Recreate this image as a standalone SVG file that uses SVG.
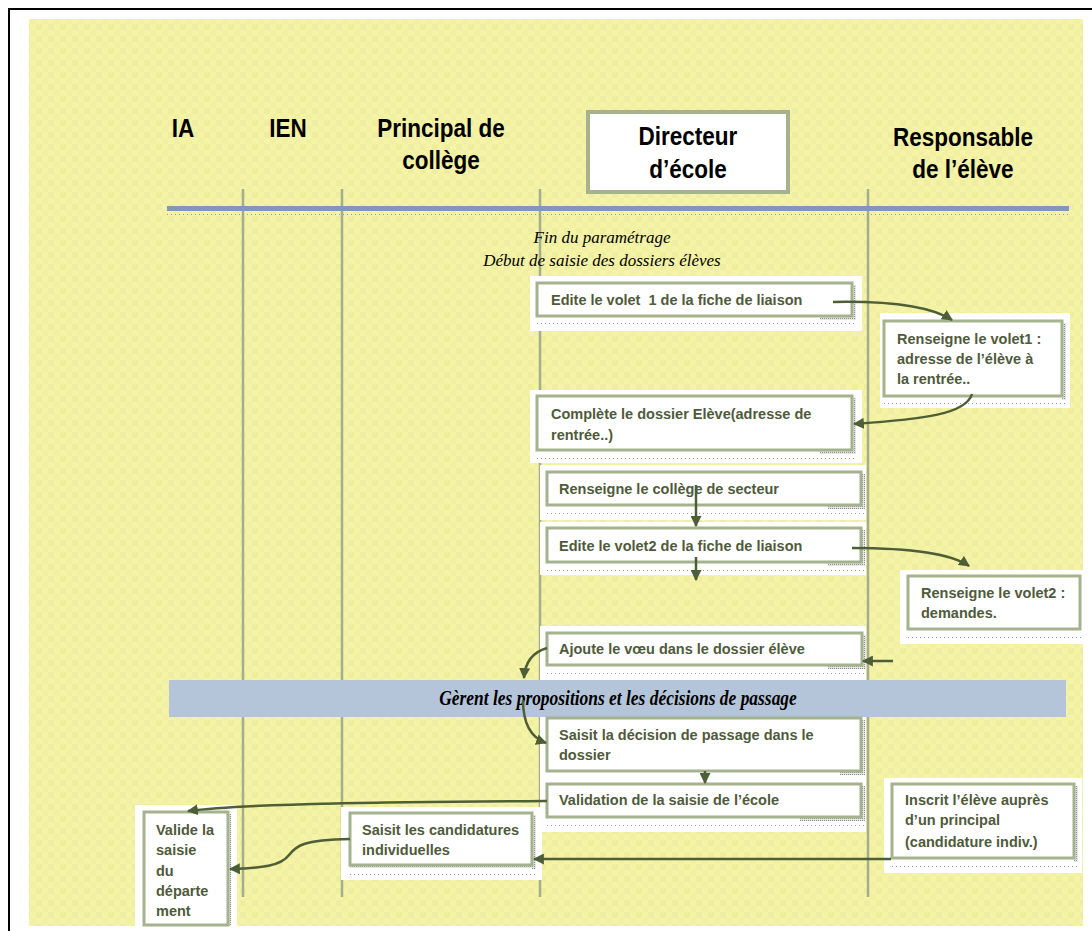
<svg xmlns="http://www.w3.org/2000/svg" width="1092" height="931" viewBox="0 0 1092 931">
<style>
.hd{font-family:"Liberation Sans",Arial,sans-serif;font-weight:bold;font-size:25px;fill:#000;text-anchor:middle;transform-box:fill-box;transform-origin:center;transform:scaleX(0.9)}
.t{font-family:"Liberation Sans",Arial,sans-serif;font-weight:bold;font-size:14.5px;fill:#4F5A3B}
.it{font-family:"Liberation Serif","Times New Roman",serif;font-style:italic;font-size:17px;fill:#000;text-anchor:middle}
.band{font-family:"Liberation Serif","Times New Roman",serif;font-style:italic;font-weight:bold;font-size:21px;fill:#000;text-anchor:middle;transform-box:fill-box;transform-origin:center;transform:scaleX(0.83)}
.bg{fill:#fff}
.bx{fill:#fff;stroke:#A4B28D;stroke-width:3}
.sh{fill:url(#stip)}
.dot{stroke:#9a9a9a;stroke-width:1;stroke-dasharray:1 3;fill:none}
.lane{stroke:#A2AE8C;stroke-width:2.5}
.cn{fill:none;stroke:#4E5E37;stroke-width:2.5;marker-end:url(#ah)}
</style>
<defs>
<pattern id="chk" width="12" height="12" patternUnits="userSpaceOnUse">
<rect width="12" height="12" fill="#F5F3A6"/>
<rect width="6" height="6" fill="#EFEDA1"/>
<rect x="6" y="6" width="6" height="6" fill="#F2F0A3"/>
</pattern>
<pattern id="stip" width="2" height="2" patternUnits="userSpaceOnUse">
<rect width="2" height="2" fill="#e6e6e6"/>
<rect width="1" height="1" fill="#8c8c8c"/>
</pattern>
<marker id="ah" viewBox="0 0 10 10" refX="9" refY="5" markerWidth="11" markerHeight="11" markerUnits="userSpaceOnUse" orient="auto">
<path d="M0,0 L10,5 L0,10 z" fill="#4E5E37"/>
</marker>
</defs>

<g id="background">
<rect x="0" y="0" width="1092" height="931" fill="#fff"/>
<rect x="9" y="9" width="1100" height="1000" fill="none" stroke="#000" stroke-width="2"/>
<rect x="29" y="19" width="1054" height="907" fill="url(#chk)"/>
</g>

<g id="lanes">
<line class="lane" x1="243" y1="189" x2="243" y2="897"/>
<line class="lane" x1="342" y1="189" x2="342" y2="897"/>
<line class="lane" x1="540" y1="189" x2="540" y2="897"/>
<line class="lane" x1="868" y1="189" x2="868" y2="897"/>
<rect x="167" y="206" width="902" height="5" fill="#7F97BD"/>
<line class="dot" x1="167" y1="214.5" x2="1069" y2="214.5"/>
</g>

<g id="headers">
<g id="h-ia"><text class="hd" x="183" y="137">IA</text></g>
<g id="h-ien"><text class="hd" x="288" y="137">IEN</text></g>
<g id="h-principal"><text class="hd" x="441" y="137">Principal de</text><text class="hd" x="441" y="169">collège</text></g>
<g id="h-directeur">
<rect x="588" y="112" width="200" height="80" fill="#fff" stroke="#A4B28D" stroke-width="4"/>
<text class="hd" x="688" y="145">Directeur</text><text class="hd" x="688" y="178">d’école</text>
</g>
<g id="h-responsable"><text class="hd" x="963" y="146">Responsable</text><text class="hd" x="963" y="178">de l’élève</text></g>
</g>

<g id="phase-note">
<text class="it" x="602" y="243">Fin du paramétrage</text>
<text class="it" x="602" y="266">Début de saisie des dossiers élèves</text>
</g>

<g id="band">
<rect x="169" y="680" width="897" height="37" fill="#B4C5DA"/>
<text class="band" x="618" y="705">Gèrent les propositions et les décisions de passage</text>
</g>

<g id="n-edite-volet1">
<rect class="bg" x="530" y="276" width="332" height="55"/>
<line class="dot" x1="537" y1="323.5" x2="856" y2="323.5"/>
<rect class="sh" x="852" y="285" width="4" height="35"/>
<rect class="sh" x="820" y="316" width="36" height="4"/>
<rect class="bx" x="537" y="283" width="315" height="33"/>
<text class="t" x="551" y="305" xml:space="preserve">Edite le volet  1 de la fiche de liaison</text>
</g>

<g id="n-renseigne-volet1">
<rect class="bg" x="880" y="313" width="190" height="95"/>
<line class="dot" x1="884" y1="403.5" x2="1066" y2="403.5"/>
<rect class="sh" x="1062" y="323" width="4" height="77"/>
<rect class="bx" x="884" y="321" width="178" height="75"/>
<text class="t" x="897" y="344">Renseigne le volet1 :</text>
<text class="t" x="897" y="364">adresse de l’élève à</text>
<text class="t" x="897" y="384">la rentrée..</text>
</g>

<g id="n-complete-dossier">
<rect class="bg" x="530" y="390" width="332" height="73"/>
<line class="dot" x1="537" y1="458.5" x2="856" y2="458.5"/>
<rect class="sh" x="852" y="398" width="4" height="56"/>
<rect class="sh" x="820" y="450" width="36" height="4"/>
<rect class="bx" x="537" y="396" width="315" height="54"/>
<text class="t" x="551" y="419">Complète le dossier Elève(adresse de</text>
<text class="t" x="551" y="440">rentrée..)</text>
</g>

<g id="n-college-secteur">
<rect class="bg" x="540" y="465" width="326" height="55"/>
<line class="dot" x1="547" y1="513.5" x2="865" y2="513.5"/>
<rect class="sh" x="861" y="474" width="4" height="35"/>
<rect class="sh" x="828" y="505" width="37" height="4"/>
<rect class="bx" x="547" y="472" width="314" height="33"/>
<text class="t" x="559" y="494">Renseigne le collège de secteur</text>
</g>

<g id="n-edite-volet2">
<rect class="bg" x="540" y="522" width="326" height="53"/>
<line class="dot" x1="547" y1="570.5" x2="865" y2="570.5"/>
<rect class="sh" x="861" y="530" width="4" height="36"/>
<rect class="sh" x="828" y="562" width="37" height="4"/>
<rect class="bx" x="547" y="528" width="314" height="34"/>
<text class="t" x="559" y="551">Edite le volet2 de la fiche de liaison</text>
</g>

<g id="n-renseigne-volet2">
<rect class="bg" x="900" y="570" width="183" height="74"/>
<line class="dot" x1="908" y1="637.5" x2="1082" y2="637.5"/>
<rect class="bx" x="908" y="576" width="172" height="53"/>
<text class="t" x="921" y="598">Renseigne le volet2 :</text>
<text class="t" x="921" y="618">demandes.</text>
</g>

<g id="n-ajoute-voeu">
<rect class="bg" x="540" y="626" width="326" height="54"/>
<line class="dot" x1="547" y1="673.5" x2="865" y2="673.5"/>
<rect class="sh" x="862" y="635" width="4" height="34"/>
<rect class="sh" x="828" y="665" width="38" height="4"/>
<rect class="bx" x="547" y="633" width="315" height="32"/>
<text class="t" x="559" y="654">Ajoute le vœu dans le dossier élève</text>
</g>

<g id="n-saisit-decision">
<rect class="bg" x="540" y="717" width="326" height="62"/>
<rect class="sh" x="861" y="720" width="4" height="55"/>
<rect class="sh" x="840" y="771" width="25" height="4"/>
<rect class="bx" x="547" y="718" width="314" height="53"/>
<text class="t" x="559" y="740">Saisit la décision de passage dans le</text>
<text class="t" x="559" y="760">dossier</text>
</g>

<g id="n-validation-ecole">
<rect class="bg" x="540" y="779" width="326" height="53"/>
<line class="dot" x1="547" y1="825.5" x2="865" y2="825.5"/>
<rect class="sh" x="861" y="786" width="4" height="35"/>
<rect class="sh" x="800" y="817" width="65" height="4"/>
<rect class="bx" x="547" y="784" width="314" height="33"/>
<text class="t" x="559" y="805">Validation de la saisie de l’école</text>
</g>

<g id="n-inscrit-eleve">
<rect class="bg" x="884" y="778" width="198" height="95"/>
<line class="dot" x1="892" y1="866.5" x2="1078" y2="866.5"/>
<rect class="sh" x="1074" y="786" width="4" height="76"/>
<rect class="bx" x="892" y="784" width="182" height="74"/>
<text class="t" x="905" y="805">Inscrit l’élève auprès</text>
<text class="t" x="905" y="825">d’un principal</text>
<text class="t" x="905" y="847">(candidature indiv.)</text>
</g>

<g id="n-candidatures">
<rect class="bg" x="341" y="807" width="201" height="73"/>
<line class="dot" x1="350" y1="874.5" x2="536" y2="874.5"/>
<rect class="sh" x="532" y="815" width="4" height="54"/>
<rect class="sh" x="350" y="865" width="186" height="3"/>
<rect class="bx" x="350" y="813" width="182" height="52"/>
<text class="t" x="362" y="835">Saisit les candidatures</text>
<text class="t" x="362" y="855">individuelles</text>
</g>

<g id="n-valide-departement">
<rect class="bg" x="135" y="805" width="102" height="126"/>
<rect class="sh" x="228" y="814" width="3" height="112"/>
<rect class="bx" x="144" y="812" width="84" height="113"/>
<text class="t" x="156" y="835">Valide la</text>
<text class="t" x="156" y="855">saisie</text>
<text class="t" x="156" y="876">du</text>
<text class="t" x="156" y="896">départe</text>
<text class="t" x="156" y="916">ment</text>
</g>

<g id="connectors">
<path class="cn" d="M833,302 C885,301 930,306 952,320"/>
<path class="cn" d="M972,394 C966,414 925,419 854,424"/>
<path class="cn" d="M696,485 L696,526"/>
<path class="cn" d="M696,557 L696,580"/>
<path class="cn" d="M852,548 C905,548 950,553 969,566"/>
<path class="cn" d="M893,661 L863,661"/>
<path class="cn" d="M547,648 C533,652 525,662 524,678"/>
<path class="cn" d="M523,700 C523,726 532,738 546,743"/>
<path class="cn" d="M705,771 L705,783"/>
<path class="cn" d="M547,801 C400,802 250,803 188,811"/>
<path class="cn" d="M350,839 C302,840 296,846 289,855 C281,866 262,868 230,869"/>
<path class="cn" d="M891,859 L534,859"/>
</g>
</svg>
